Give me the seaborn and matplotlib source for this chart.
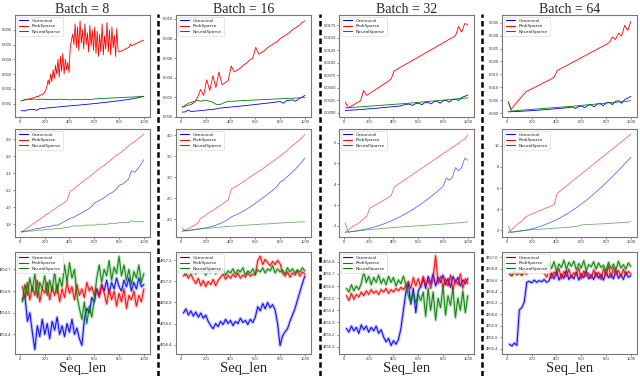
import numpy as np
import matplotlib
matplotlib.use("Agg")
import matplotlib.pyplot as plt
import seaborn as sns
from matplotlib.lines import Line2D
from matplotlib import font_manager

# ---- data ----
batches = [8, 16, 32, 64]
names = ["Canonical", "ProbSparse", "NeuralSparse"]
colors = ["blue", "red", "green"]

seq_len = np.linspace(10, 1000, 41)
seq_len_dense = np.linspace(10, 1000, 101)
seq_len_r3 = np.arange(20, 1001, 20)

# row 1 : time
blue_t8 = [0.00055,0.00050,0.00058,0.00060,0.00062,0.00055,0.00066,0.00068,0.00070,0.00072,0.00074,0.00076,0.00078,0.00080,0.00082,0.00084,0.00086,0.00087,0.00089,0.00091,0.00093,0.00095,0.00097,0.00099,0.00101,0.00103,0.00106,0.00108,0.00110,0.00113,0.00115,0.00118,0.00120,0.00123,0.00126,0.00129,0.00132,0.00136,0.00140,0.00145,0.00150]
red_t8 = [0.00120,0.00122,0.00124,0.00126,0.00127,0.00129,0.00131,0.00133,0.00135,0.00137,0.00140,
          0.00143,0.00146,0.00150,0.00148,0.00155,0.00160,0.00158,0.00168,0.00175,0.00190,
          0.00220,0.00260,0.00230,0.00300,0.00250,0.00330,0.00270,0.00360,0.00300,0.00400,
          0.00280,0.00420,0.00320,0.00440,0.00300,0.00400,0.00330,0.00380,0.00310,0.00480,
          0.00530,0.00570,0.00500,0.00640,0.00480,0.00620,0.00460,0.00660,0.00510,0.00600,
          0.00470,0.00640,0.00500,0.00580,0.00450,0.00630,0.00490,0.00600,0.00460,0.00620,
          0.00440,0.00590,0.00420,0.00570,0.00450,0.00640,0.00430,0.00560,0.00470,0.00650,
          0.00450,0.00600,0.00430,0.00620,0.00480,0.00560,0.00420,0.00610,0.00460,0.00450,
          0.00455,0.00458,0.00462,0.00466,0.00470,0.00474,0.00478,0.00482,0.00505,0.00490,
          0.00495,0.00500,0.00504,0.00508,0.00512,0.00516,0.00520,0.00524,0.00527,0.00530]
green_t8 = [0.00118,0.00125,0.00130,0.00128,0.00132,0.00130,0.00129,0.00131,0.00128,0.00130,0.00127,0.00129,0.00128,0.00131,0.00127,0.00129,0.00126,0.00128,0.00127,0.00128,0.00127,0.00128,0.00128,0.00129,0.00132,0.00134,0.00135,0.00136,0.00137,0.00138,0.00139,0.00140,0.00141,0.00142,0.00143,0.00144,0.00145,0.00146,0.00147,0.00149,0.00150]

blue_t16 = [0.00050,0.00052,0.00070,0.00055,0.00060,0.00062,0.00065,0.00068,0.00072,0.00075,0.00078,0.00082,0.00090,0.00093,0.00096,0.00099,0.00102,0.00105,0.00108,0.00111,0.00115,0.00118,0.00121,0.00125,0.00128,0.00132,0.00135,0.00139,0.00142,0.00146,0.00150,0.00154,0.00158,0.00140,0.00166,0.00170,0.00175,0.00160,0.00185,0.00200,0.00220]
red_t16 = [0.0010,0.0011,0.0012,0.0013,0.0015,0.0020,0.0028,0.0022,0.0038,0.0027,0.0042,0.0030,0.0046,0.0033,0.0035,0.0037,0.0052,0.0046,0.0048,0.0050,0.0053,0.0055,0.0058,0.0060,0.0071,0.0064,0.0066,0.0068,0.0071,0.0073,0.0075,0.0077,0.0080,0.0082,0.0084,0.0086,0.0089,0.0091,0.0093,0.0096,0.0098]
green_t16 = [0.0010,0.0012,0.0014,0.0015,0.0016,0.0017,0.0016,0.0017,0.0017,0.0016,0.0015,0.0013,0.00125,0.00135,0.0015,0.0016,0.0016,0.00162,0.00164,0.00166,0.00168,0.0017,0.00171,0.00172,0.00174,0.00175,0.00177,0.00178,0.0018,0.00181,0.00183,0.00184,0.00186,0.00187,0.00189,0.0019,0.00192,0.00193,0.00195,0.00197,0.00200]

blue_t32 = [0.00050,0.00053,0.00057,0.00061,0.00065,0.00069,0.00074,0.00079,0.00084,0.00089,0.00094,0.00099,0.00105,0.00110,0.00116,0.00122,0.00128,0.00134,0.00140,0.00160,0.00172,0.00178,0.00150,0.00188,0.00194,0.00165,0.00205,0.00211,0.00180,0.00223,0.00230,0.00195,0.00243,0.00250,0.00215,0.00265,0.00272,0.00250,0.00310,0.00330,0.00360]
red_t32 = [0.0022,0.0010,0.0014,0.0017,0.0021,0.0024,0.0045,0.0035,0.0039,0.0043,0.0047,0.0051,0.0055,0.0059,0.0063,0.0068,0.0084,0.0087,0.0091,0.0094,0.0098,0.0101,0.0105,0.0108,0.0112,0.0115,0.0119,0.0122,0.0126,0.0129,0.0133,0.0136,0.0140,0.0143,0.0147,0.0150,0.0154,0.0172,0.0161,0.0178,0.0176]
green_t32 = [0.00100,0.00105,0.00109,0.00114,0.00118,0.00123,0.00127,0.00132,0.00136,0.00141,0.00145,0.00150,0.00154,0.00159,0.00163,0.00168,0.00172,0.00177,0.00181,0.00186,0.00190,0.00196,0.00201,0.00207,0.00212,0.00218,0.00223,0.00229,0.00234,0.00240,0.00245,0.00251,0.00256,0.00262,0.00267,0.00273,0.00278,0.00284,0.00289,0.00295,0.00300]

blue_t64 = [0.00050,0.00055,0.00060,0.00066,0.00072,0.00078,0.00085,0.00092,0.00100,0.00108,0.00116,0.00125,0.00134,0.00143,0.00153,0.00163,0.00174,0.00185,0.00196,0.00208,0.00220,0.00233,0.00180,0.00260,0.00274,0.00210,0.00303,0.00318,0.00245,0.00350,0.00367,0.00285,0.00402,0.00420,0.00330,0.00460,0.00480,0.00380,0.00525,0.00580,0.00650]
red_t64 = [0.0045,0.0015,0.0030,0.0045,0.0058,0.0072,0.0085,0.0090,0.0096,0.0102,0.0108,0.0114,0.0120,0.0126,0.0132,0.0140,0.0165,0.0171,0.0178,0.0184,0.0190,0.0197,0.0203,0.0209,0.0216,0.0222,0.0228,0.0235,0.0241,0.0247,0.0254,0.0260,0.0266,0.0273,0.0295,0.0285,0.0310,0.0298,0.0340,0.0320,0.0355]
green_t64 = [0.00450,0.00080,0.00090,0.00100,0.00110,0.00120,0.00130,0.00140,0.00149,0.00158,0.00167,0.00176,0.00185,0.00194,0.00203,0.00212,0.00221,0.00230,0.00239,0.00248,0.00257,0.00267,0.00278,0.00289,0.00300,0.00311,0.00322,0.00333,0.00344,0.00355,0.00366,0.00377,0.00388,0.00399,0.00410,0.00421,0.00432,0.00443,0.00455,0.00467,0.00480]

# row 2
blue_m8 = [1.71,1.72,1.72,1.73,1.74,1.75,1.75,1.76,1.77,1.77,1.78,1.79,1.79,1.81,1.83,1.85,1.87,1.88,1.90,1.92,1.94,1.96,1.98,2.01,2.05,2.07,2.09,2.11,2.14,2.16,2.18,2.21,2.26,2.27,2.30,2.33,2.43,2.41,2.45,2.50,2.56]
red_m8 = [1.71,1.73,1.76,1.78,1.81,1.83,1.86,1.88,1.91,1.93,1.96,1.98,2.01,2.03,2.05,2.08,2.19,2.21,2.24,2.27,2.30,2.33,2.35,2.38,2.41,2.44,2.47,2.49,2.52,2.55,2.58,2.61,2.63,2.66,2.69,2.72,2.75,2.77,2.80,2.83,2.86]
green_m8 = [1.71,1.71,1.72,1.72,1.72,1.73,1.73,1.73,1.74,1.74,1.74,1.75,1.75,1.75,1.76,1.76,1.77,1.78,1.78,1.78,1.78,1.79,1.79,1.79,1.79,1.80,1.80,1.80,1.80,1.81,1.81,1.81,1.82,1.82,1.82,1.82,1.84,1.83,1.83,1.83,1.83]

blue_m16 = [1.72,1.73,1.74,1.75,1.76,1.77,1.78,1.79,1.80,1.82,1.84,1.86,1.89,1.92,1.96,2.00,2.06,2.09,2.12,2.16,2.20,2.24,2.29,2.33,2.39,2.44,2.50,2.55,2.61,2.66,2.72,2.79,2.89,2.93,3.00,3.06,3.13,3.20,3.28,3.36,3.46]
red_m16 = [1.72,1.75,1.78,1.82,1.86,1.90,2.02,2.06,2.12,2.17,2.21,2.26,2.31,2.36,2.41,2.46,2.72,2.76,2.80,2.85,2.90,2.95,3.00,3.05,3.10,3.14,3.19,3.24,3.30,3.35,3.40,3.46,3.51,3.57,3.62,3.69,3.76,3.81,3.87,3.94,4.02]
green_m16 = [1.80,1.72,1.73,1.74,1.75,1.76,1.77,1.78,1.79,1.79,1.80,1.81,1.81,1.82,1.83,1.83,1.84,1.84,1.85,1.85,1.86,1.86,1.87,1.87,1.88,1.88,1.89,1.89,1.89,1.90,1.90,1.91,1.91,1.92,1.92,1.93,1.93,1.93,1.94,1.94,1.94]

blue_m32 = [1.70,1.71,1.73,1.75,1.77,1.80,1.83,1.86,1.89,1.93,1.97,2.02,2.07,2.12,2.18,2.24,2.31,2.38,2.45,2.53,2.61,2.70,2.79,2.88,2.98,3.08,3.19,3.30,3.41,3.53,3.65,3.78,3.91,4.30,4.19,4.34,4.80,4.64,4.80,5.25,5.15]
red_m32 = [1.70,1.80,1.92,2.02,2.10,2.20,2.35,2.45,2.85,2.93,3.02,3.10,3.19,3.27,3.36,3.45,3.87,3.97,4.07,4.17,4.27,4.37,4.47,4.57,4.67,4.77,4.87,4.97,5.07,5.17,5.27,5.37,5.47,5.57,5.67,5.77,5.87,5.97,6.10,6.15,6.37]
green_m32 = [2.15,1.70,1.72,1.74,1.76,1.78,1.79,1.81,1.82,1.84,1.85,1.86,1.88,1.89,1.90,1.92,1.93,1.94,1.95,1.96,1.97,1.98,1.99,2.00,2.01,2.02,2.03,2.04,2.05,2.06,2.07,2.08,2.09,2.10,2.11,2.12,2.14,2.15,2.16,2.18,2.20]

blue_m64 = [1.80,1.81,1.83,1.86,1.90,1.95,2.01,2.07,2.14,2.22,2.31,2.41,2.52,2.63,2.76,2.89,3.03,3.18,3.34,3.51,3.69,3.88,4.08,4.29,4.51,4.73,4.96,5.20,5.45,5.71,5.97,6.24,6.52,6.80,7.09,7.38,7.68,7.98,8.29,8.60,8.92]
red_m64 = [1.80,2.00,2.30,2.55,2.75,3.05,3.30,3.45,3.58,3.70,3.82,3.94,4.06,4.18,4.30,4.42,5.50,5.73,5.97,6.20,6.43,6.67,6.90,7.13,7.37,7.60,7.83,8.07,8.30,8.53,8.77,9.00,9.23,9.47,9.70,9.93,10.17,10.40,10.63,10.87,11.10]
green_m64 = [2.40,1.80,1.85,1.90,1.95,1.98,2.00,2.02,2.04,2.06,2.08,2.10,2.12,2.14,2.16,2.18,2.20,2.22,2.24,2.26,2.28,2.32,2.36,2.40,2.50,2.52,2.53,2.55,2.56,2.58,2.59,2.60,2.62,2.64,2.66,2.68,2.70,2.72,2.74,2.76,2.80]

# row 3
nan = np.nan
blue_r8 = [4854.56,4854.58,4854.46,4854.50,4854.41,4854.33,4854.44,4854.39,4854.47,4854.40,4854.45,4854.38,4854.46,4854.42,4854.48,4854.40,4854.44,4854.39,4854.45,4854.41,4854.47,4854.40,4854.43,4854.38,4854.35,4854.47,4854.52,4854.50,4854.57,4854.55,4854.61,4854.58,4854.63,4854.60,4854.65,4854.59,4854.64,4854.61,4854.66,4854.62,4854.60,4854.65,4854.62,4854.66,4854.60,4854.64,4854.61,4854.66,4854.62,4854.63]
red_r8 = [4854.62,4854.57,4854.64,4854.56,4854.62,4854.58,4854.65,4854.55,4854.61,4854.59,4854.64,4854.56,4854.62,4854.58,4854.63,4854.55,4854.61,4854.57,4854.64,4854.59,4854.62,4854.56,4854.63,4854.58,4854.61,4854.57,4854.64,4854.60,4854.62,4854.58,4854.61,4854.57,4854.63,4854.59,4854.54,4854.61,4854.56,4854.60,4854.53,4854.59,4854.55,4854.61,4854.52,4854.58,4854.56,4854.60,4854.53,4854.58,4854.55,4854.61]
green_r8 = [4854.55,4854.63,4854.58,4854.66,4854.60,4854.68,4854.57,4854.64,4854.61,4854.67,4854.58,4854.65,4854.60,4854.69,4854.59,4854.66,4854.62,4854.72,4854.64,4854.73,4854.66,4854.70,4854.58,4854.52,4854.47,4854.55,4854.45,4854.53,4854.48,4854.56,4854.66,4854.72,4854.64,4854.70,4854.67,4854.74,4854.65,4854.71,4854.68,4854.76,4854.67,4854.72,4854.65,4854.70,4854.63,4854.69,4854.66,4854.72,4854.64,4854.68]

blue_r16 = [4856.70,4856.74,4856.68,4856.72,4856.67,4856.71,4856.66,4856.70,4856.65,4856.68,4856.62,4856.58,4856.55,4856.60,4856.57,4856.62,4856.59,4856.64,4856.60,4856.63,4856.58,4856.62,4856.60,4856.65,4856.61,4856.63,4856.59,4856.64,4856.61,4856.66,4856.76,4856.72,4856.79,4856.74,4856.80,4856.75,4856.78,4856.73,4856.60,4856.39,4856.48,4856.52,4856.55,4856.62,4856.68,4856.74,4856.82,4856.90,4856.98,4857.05]
red_r16 = [4857.05,4857.08,4857.03,4857.07,4857.02,4856.98,4857.03,4856.96,4857.01,4856.95,4857.00,4856.97,4857.02,4856.96,4857.01,4857.04,4857.07,4857.02,4857.06,4857.03,4857.07,4857.04,4857.08,4857.03,4857.06,4857.04,4857.08,4857.05,4857.07,4857.06,4857.20,4857.24,4857.16,4857.21,4857.18,4857.15,4857.19,4857.16,4857.20,4857.17,4857.08,4857.05,4857.09,4857.04,4857.08,4857.06,4857.10,4857.05,4857.09,4857.07]
green_r16 = [4857.10,4857.06,4857.12,4857.08,4857.11,4857.07,4857.12,4857.09,4857.11,4857.06,4857.10,4857.08,4857.13,4857.07,4857.11,4857.09,4857.12,4857.06,4857.10,4857.08,4857.12,4857.07,4857.11,4857.09,4857.13,4857.06,4857.10,4857.08,4857.12,4857.07,4857.11,4857.09,4857.13,4857.08,4857.12,4857.10,4857.15,4857.08,4857.12,4857.09,4857.11,4857.07,4857.13,4857.09,4857.12,4857.08,4857.11,4857.09,4857.13,4857.10]

blue_r32 = [4855.25,4855.22,4855.27,4855.23,4855.26,4855.21,4855.28,4855.24,4855.27,4855.22,4855.26,4855.23,4855.27,4855.21,4855.24,4855.18,4855.14,4855.17,4855.11,4855.15,4855.12,4855.16,4855.25,4855.40,4855.55,4855.62,4855.45,4855.58,4855.38,4855.56,4855.60,4855.66,4855.58,4855.68,4855.62,4855.70,4855.60,4855.67,4855.63,4855.69,4855.61,4855.66,4855.59,4855.68,4855.63,4855.67,4855.60,4855.65,4855.62,4855.66]
red_r32 = [4855.52,4855.48,4855.54,4855.49,4855.53,4855.51,4855.55,4855.52,4855.56,4855.53,4855.57,4855.54,4855.56,4855.53,4855.57,4855.55,4855.58,4855.54,4855.57,4855.55,4855.58,4855.56,4855.59,4855.57,4855.60,4855.64,4855.58,4855.67,4855.60,4855.66,4855.59,4855.68,4855.61,4855.65,4855.58,4855.67,4855.85,4855.62,4855.68,4855.59,4855.66,4855.60,4855.69,4855.57,4855.65,4855.61,4855.70,4855.58,4855.66,4855.62]
green_r32 = [4855.58,4855.55,4855.61,4855.56,4855.60,4855.57,4855.62,4855.72,4855.63,4855.68,4855.61,4855.67,4855.63,4855.69,4855.62,4855.66,4855.61,4855.68,4855.63,4855.67,4855.60,4855.65,4855.62,4855.68,4855.61,4855.52,4855.47,4855.54,4855.46,4855.53,4855.48,4855.55,4855.35,4855.58,4855.40,4855.55,4855.32,4855.50,4855.42,4855.60,4855.36,4855.52,4855.44,4855.58,4855.34,4855.50,4855.40,4855.56,4855.38,4855.52]

blue_r64 = [4855.48,4855.45,4855.50,4855.46,4856.08,4856.12,4856.22,4856.56,4856.58,4856.55,4856.60,4856.56,4856.59,4856.57,4856.61,4856.56,4856.59,4856.72,4856.62,4856.75,4856.60,4856.70,4856.63,4856.77,4856.61,4856.68,4856.62,4856.74,4856.60,4856.71,4856.64,4856.76,4856.62,4856.69,4856.61,4856.73,4856.63,4856.70,4856.60,4856.75,4856.64,4856.71,4856.62,4856.77,4856.63,4856.70,4856.61,4856.74,4856.65,4856.68]
red_r64 = [4856.70,4856.67,4856.74,4856.69,4856.72,4856.68,4856.73,4856.70,nan,nan,nan,nan,nan,nan,4856.72,4856.65,4856.78,4856.63,4856.74,4856.68,4856.80,4856.62,4856.75,4856.66,4856.79,4856.64,4856.73,4856.69,4856.81,4856.62,4856.76,4856.67,4856.72,4856.63,4856.78,4856.66,4856.74,4856.61,4856.80,4856.68,4856.85,4856.64,4856.82,4856.70,4856.77,4856.66,4856.79,4856.69,4856.75,4856.71]
green_r64 = [4856.73,4856.70,4856.75,4856.71,4856.74,4856.70,4856.76,4856.72,nan,nan,nan,nan,nan,nan,4856.85,4856.78,4856.90,4856.80,4856.92,4856.76,4856.88,4856.82,4856.95,4856.79,4856.91,4856.84,4856.93,4856.78,4856.89,4856.81,4856.94,4856.77,4856.87,4856.83,4856.92,4856.79,4856.90,4856.82,4856.86,4856.76,4856.91,4856.80,4856.88,4856.78,4856.93,4856.81,4856.87,4856.79,4856.90,4856.84]

# y ticks / limits per panel
yticks = [
    [[0.001, 0.002, 0.003, 0.004, 0.005, 0.006], [0.000, 0.002, 0.004, 0.006, 0.008, 0.010],
     [0.0, 0.0025, 0.005, 0.0075, 0.01, 0.0125, 0.015, 0.0175], [0.0, 0.005, 0.01, 0.015, 0.02, 0.025, 0.03, 0.035]],
    [[1.8, 2.0, 2.2, 2.4, 2.6, 2.8], [2.0, 2.5, 3.0, 3.5, 4.0], [2, 3, 4, 5, 6], [2, 4, 6, 8, 10]],
    [[4854.4, 4854.5, 4854.6, 4854.7], [4856.4, 4856.6, 4856.8, 4857.0, 4857.2],
     [4855.1, 4855.2, 4855.3, 4855.4, 4855.5, 4855.6, 4855.7, 4855.8],
     [4855.4, 4855.6, 4855.8, 4856.0, 4856.2, 4856.4, 4856.6, 4856.8, 4857.0]],
]
ytick_fmt = [["{:.3f}", "{:.3f}", "{:.4f}", "{:.3f}"], ["{:.1f}", "{:.1f}", "{:.0f}", "{:.0f}"], ["{:.1f}"] * 4]
ylims = [
    [(0.0001, 0.0070), (0.0, 0.0104), (-0.0008, 0.0195), (-0.0015, 0.038)],
    [(1.65, 2.92), (1.58, 4.15), (1.47, 6.65), (1.35, 11.6)],
    [(4854.31, 4854.78), (4856.31, 4857.28), (4855.04, 4855.88), (4855.31, 4857.09)],
]

panels = [
    [[(seq_len, blue_t8), (seq_len_dense, red_t8), (seq_len, green_t8)],
     [(seq_len, blue_t16), (seq_len, red_t16), (seq_len, green_t16)],
     [(seq_len, blue_t32), (seq_len, red_t32), (seq_len, green_t32)],
     [(seq_len, blue_t64), (seq_len, red_t64), (seq_len, green_t64)]],
    [[(seq_len, blue_m8), (seq_len, red_m8), (seq_len, green_m8)],
     [(seq_len, blue_m16), (seq_len, red_m16), (seq_len, green_m16)],
     [(seq_len, blue_m32), (seq_len, red_m32), (seq_len, green_m32)],
     [(seq_len, blue_m64), (seq_len, red_m64), (seq_len, green_m64)]],
    [[(seq_len_r3, blue_r8), (seq_len_r3, red_r8), (seq_len_r3, green_r8)],
     [(seq_len_r3, blue_r16), (seq_len_r3, red_r16), (seq_len_r3, green_r16)],
     [(seq_len_r3, blue_r32), (seq_len_r3, red_r32), (seq_len_r3, green_r32)],
     [(seq_len_r3, blue_r64), (seq_len_r3, red_r64), (seq_len_r3, green_r64)]],
]

sns.set_style("ticks")
installed = {f.name for f in font_manager.fontManager.ttflist}
tick_font = "Liberation Sans Narrow" if "Liberation Sans Narrow" in installed else "Liberation Sans"

W, H = 640, 376
fig = plt.figure(figsize=(W / 100, H / 100), dpi=100)

col_left = [15, 176, 339, 502]
col_w = 135
row_box = [(15, 117), (129, 237), (252, 354)]
row_style = [dict(lw=0.6, alpha=1.0), dict(lw=0.6, alpha=0.6), dict(lw=0.8, alpha=0.9)]


def draw(ax, x, y, color, label, style, halo):
    x = np.asarray(x, float)
    y = np.asarray(y, float)
    idx = np.flatnonzero(~np.isnan(y))
    chunks = np.split(idx, np.flatnonzero(np.diff(idx) > 1) + 1)
    for n, c in enumerate(chunks):
        if halo:
            sns.lineplot(x=x[c], y=y[c], color=color, lw=2.4, alpha=0.22, ax=ax, legend=False)
        sns.lineplot(x=x[c], y=y[c], color=color, label=label if n == 0 else None,
                     ax=ax, legend=False, **style)


for r in range(3):
    top, bot = row_box[r]
    for c in range(4):
        ax = fig.add_axes([col_left[c] / W, 1 - bot / H, col_w / W, (bot - top) / H])
        for (xv, yv), color, name in zip(panels[r][c], colors, names):
            draw(ax, xv, yv, color, name, row_style[r], halo=(r == 2))
        ax.set_xlim(-40, 1050)
        ax.set_xticks([0, 200, 400, 600, 800, 1000])
        ax.set_ylim(*ylims[r][c])
        ax.set_yticks(yticks[r][c])
        ax.set_yticklabels([ytick_fmt[r][c].format(t) for t in yticks[r][c]])
        ax.tick_params(labelsize=3, length=1.5, width=0.4, pad=0.8, colors="#333333")
        for lab in ax.get_xticklabels() + ax.get_yticklabels():
            lab.set_family(tick_font)
        for s in ax.spines.values():
            s.set_color("#777777")
            s.set_linewidth(0.8)
        ax.set_xlabel("")
        ax.set_ylabel("")
        leg = ax.legend(loc="upper left", fontsize=3.2, handlelength=2.2, borderpad=0.4,
                        labelspacing=0.35, borderaxespad=0.4, framealpha=0.85)
        leg.get_frame().set_edgecolor("#cccccc")
        leg.get_frame().set_linewidth(0.4)
        for h in leg.get_lines():
            h.set_alpha(1.0)
            h.set_linewidth(0.8)

# column titles and x labels
for c, b in enumerate(batches):
    cx = (col_left[c] + col_w / 2) / W
    fig.text(cx, 1 - 13 / H, f"Batch = {b}", ha="center", va="baseline",
             fontsize=10, family="Liberation Serif")
    fig.text(cx, 1 - 372 / H, "Seq_len", ha="center", va="baseline",
             fontsize=10.5, family="Liberation Serif")

# dashed separators between columns
for xs in [158, 320, 482]:
    fig.add_artist(Line2D([xs / W, xs / W], [0, 1 - 14 / H], transform=fig.transFigure,
                          color="black", lw=1.8, dashes=(2.2, 1.3)))

fig.savefig("out.png", dpi=100)
